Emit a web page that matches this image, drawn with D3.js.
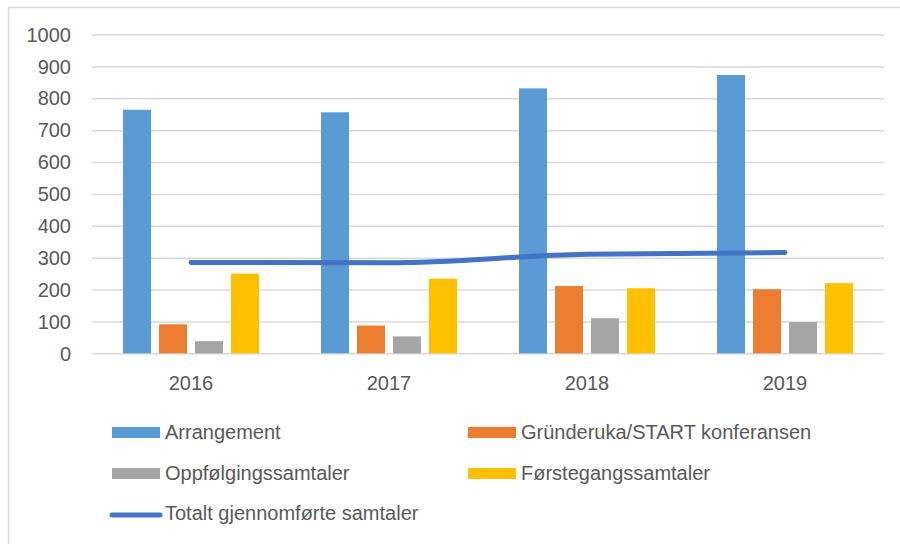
<!DOCTYPE html>
<html>
<head>
<meta charset="utf-8">
<script src="https://cdn.jsdelivr.net/npm/d3@7.9.0/dist/d3.min.js"></script>
<style>
  html, body { margin: 0; padding: 0; background: #fff; }
  svg { display: block; font-family: "Liberation Sans", Arial, sans-serif; }
</style>
</head>
<body>
<svg id="chart" width="900" height="544"></svg>
<script>
// ---- data ----
const years = ["2016", "2017", "2018", "2019"];
const seriesNames = ["Arrangement", "Gründeruka/START konferansen", "Oppfølgingssamtaler", "Førstegangssamtaler"];
const arrangement = [764, 756, 831, 873];
const grunderuka = [91, 87, 211, 201];
const oppfolging = [38, 53, 110, 98];
const forstegang = [250, 234, 204, 220];
const lineName = "Totalt gjennomførte samtaler";
const totalt = [285, 284, 311, 316];
const yTicks = [0, 100, 200, 300, 400, 500, 600, 700, 800, 900, 1000];

const barColors = ["#5B9BD5", "#ED7D31", "#A5A5A5", "#FFC000"];
const lineColor = "#4472C4";
const textColor = "#595959";
const gridColor = "#d9d9d9";

const barSeries = [arrangement, grunderuka, oppfolging, forstegang];

// ---- layout ----
const svg = d3.select("#chart");
const plot = { left: 92, right: 884, top: 34.5, bottom: 353.3 };

// chart border (only left/top visible in the picture)
svg.append("rect")
  .attr("x", 8.5).attr("y", 7.5)
  .attr("width", 1000).attr("height", 1000)
  .attr("fill", "none")
  .attr("stroke", gridColor)
  .attr("stroke-width", 1.5);

const x0 = d3.scaleBand().domain(years).range([plot.left, plot.right]);
const x1 = d3.scaleBand().domain(d3.range(4))
  .range([31, x0.bandwidth() - 31])
  .paddingInner(0.222);
const y = d3.scaleLinear().domain([0, 1000]).range([plot.bottom, plot.top]);

// gridlines
svg.append("g")
  .attr("transform", `translate(${plot.left},0)`)
  .call(d3.axisLeft(y).tickValues(yTicks).tickFormat("").tickSize(-(plot.right - plot.left)))
  .call(g => g.select(".domain").remove())
  .call(g => g.selectAll("line").attr("stroke", gridColor).attr("stroke-width", 1.5));

// y labels
svg.append("g")
  .selectAll("text")
  .data(yTicks)
  .join("text")
  .attr("x", 71)
  .attr("y", d => y(d))
  .attr("dy", "0.36em")
  .attr("text-anchor", "end")
  .attr("font-size", 20)
  .attr("fill", textColor)
  .text(d => d);

// bars
const groups = svg.append("g")
  .selectAll("g")
  .data(years)
  .join("g")
  .attr("transform", d => `translate(${x0(d)},0)`);

groups.selectAll("rect")
  .data((d, i) => barSeries.map((s, k) => ({ k, v: s[i] })))
  .join("rect")
  .attr("x", d => x1(d.k))
  .attr("width", x1.bandwidth())
  .attr("y", d => y(d.v))
  .attr("height", d => y(0) - y(d.v))
  .attr("fill", d => barColors[d.k]);

// x labels
svg.append("g")
  .selectAll("text")
  .data(years)
  .join("text")
  .attr("x", d => x0(d) + x0.bandwidth() / 2)
  .attr("y", 390)
  .attr("text-anchor", "middle")
  .attr("font-size", 20)
  .attr("fill", textColor)
  .text(d => d);

// line
const line = d3.line()
  .x((d, i) => x0(years[i]) + x0.bandwidth() / 2)
  .y(d => y(d))
  .curve(d3.curveMonotoneX);

svg.append("path")
  .datum(totalt)
  .attr("d", line)
  .attr("fill", "none")
  .attr("stroke", lineColor)
  .attr("stroke-width", 5)
  .attr("stroke-linecap", "round");

// legend
const legendItems = [
  { name: seriesNames[0], color: barColors[0], x: 112, base: 439, type: "bar" },
  { name: seriesNames[1], color: barColors[1], x: 468, base: 439, type: "bar" },
  { name: seriesNames[2], color: barColors[2], x: 112, base: 480, type: "bar" },
  { name: seriesNames[3], color: barColors[3], x: 468, base: 480, type: "bar" },
  { name: lineName, color: lineColor, x: 112, base: 520, type: "line" }
];

const leg = svg.append("g")
  .selectAll("g")
  .data(legendItems)
  .join("g");

leg.filter(d => d.type === "bar")
  .append("rect")
  .attr("x", d => d.x)
  .attr("y", d => d.base - 12)
  .attr("width", 48)
  .attr("height", 11)
  .attr("fill", d => d.color);

leg.filter(d => d.type === "line")
  .append("line")
  .attr("x1", d => d.x).attr("x2", d => d.x + 48)
  .attr("y1", d => d.base - 5).attr("y2", d => d.base - 5)
  .attr("stroke", d => d.color)
  .attr("stroke-width", 5)
  .attr("stroke-linecap", "round");

leg.append("text")
  .attr("x", d => d.x + 53)
  .attr("y", d => d.base)
  .attr("font-size", 20)
  .attr("fill", textColor)
  .text(d => d.name);
</script>
</body>
</html>
